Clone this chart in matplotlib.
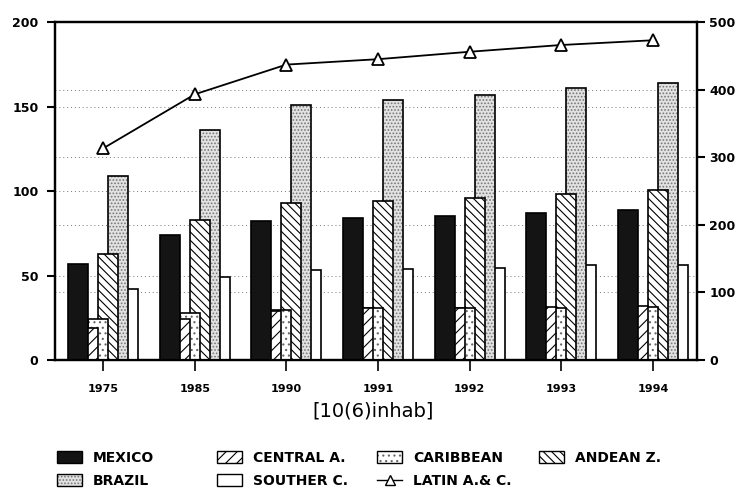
import numpy as np
import matplotlib.pyplot as plt
from matplotlib.patches import Patch
from matplotlib.lines import Line2D

plt.switch_backend('Agg')
plt.rcParams['font.family'] = ['DejaVu Sans']
plt.rcParams['hatch.linewidth'] = 0.8

years = ['1975', '1985', '1990', '1991', '1992', '1993', '1994']

mexico = [57, 74, 82, 84, 85, 87, 89]
central = [19, 24, 29, 31, 30.5, 31.5, 32]
caribbean = [24, 28, 29.5, 30.5, 30.5, 31, 31.5]
andean = [63, 83, 93, 94, 96, 98, 100.5]
brazil = [109, 136, 151, 154, 157, 161, 164]
souther = [42, 49, 53, 54, 54.5, 56, 56.5]
latin = [313, 393, 437, 445, 456, 466, 473]

left_ticks = [0, 50, 100, 150, 200]
right_ticks = [0, 100, 200, 300, 400, 500]

# name, values, fill, hatch, hatch colour
series = [
    ('MEXICO', mexico, '#141414', '', '#141414'),
    ('CENTRAL A.', central, 'white', '///', 'black'),
    ('CARIBBEAN', caribbean, 'white', '...', '#666666'),
    ('ANDEAN Z.', andean, 'white', '\\\\\\\\', 'black'),
    ('BRAZIL', brazil, '#e2e2e2', '.....', '#777777'),
    ('SOUTHER C.', souther, 'white', '', 'white'),
]

fig = plt.figure(figsize=(7.41, 4.88), dpi=100)
ax = fig.add_axes([0.0742, 0.2623, 0.8664, 0.6926])

x = np.arange(len(years))
step = 0.109
width = 0.218

# overlapping bars, the first series sits in front
handles = {}
for i, (name, vals, fc, hatch, hc) in enumerate(series):
    pos = x + (i - 2.5) * step
    z = 10 - i
    ax.bar(pos, vals, width=width, color=fc, edgecolor=hc, hatch=hatch,
           linewidth=0, zorder=z)
    ax.bar(pos, vals, width=width, fill=False, edgecolor='black',
           linewidth=1.2, zorder=z + 0.01)
    handles[name] = (Patch(facecolor=fc, edgecolor=hc, hatch=hatch, linewidth=0),
                     Patch(fill=False, edgecolor='black', linewidth=1.0))

# dotted guide lines for both scales
ratio = left_ticks[-1] / right_ticks[-1]
for v in left_ticks[1:-1]:
    ax.axhline(v, color='#777777', lw=0.7, ls=(0, (1, 3)), zorder=1)
for v in right_ticks[1:-1]:
    ax.axhline(v * ratio, color='#777777', lw=0.7, ls=(0, (1, 3)), zorder=1)

ax.set_xlim(-0.525, 6.48)
ax.set_ylim(0, 200)
ax.set_xticks(x)
ax.set_xticklabels(years, fontsize=8, fontweight='bold')
ax.set_yticks(left_ticks)
ax.set_yticklabels([str(t) for t in left_ticks], fontsize=9, fontweight='bold')
ax.tick_params(axis='x', length=8, width=1.2, pad=9)
ax.tick_params(axis='y', length=6, width=1.5, pad=6)
for s in ax.spines.values():
    s.set_linewidth(1.6)

ax2 = ax.twinx()
ax2.plot(x, latin, color='black', lw=1.3, marker='^', ms=9,
         mfc='white', mec='black', mew=1.3, zorder=20)
ax2.set_ylim(0, 500)
ax2.set_yticks(right_ticks)
ax2.set_yticklabels([str(t) for t in right_ticks], fontsize=9, fontweight='bold')
ax2.tick_params(axis='y', length=6, width=1.5, pad=3)
for s in ax2.spines.values():
    s.set_linewidth(1.6)

fig.text(373 / 741, 1 - 411 / 488, '[10(6)inhab]', fontsize=14,
         ha='center', va='center')

latin_handle = Line2D([], [], color='black', lw=1.0, marker='^', ms=7,
                      mfc='white', mec='black')
columns = [
    (57, ['MEXICO', 'BRAZIL']),
    (217, ['CENTRAL A.', 'SOUTHER C.']),
    (377, ['CARIBBEAN', 'LATIN A.& C.']),
    (539, ['ANDEAN Z.']),
]
for xpos, names in columns:
    hs = [latin_handle if n.startswith('LATIN') else handles[n] for n in names]
    fig.legend(hs, names, loc='upper left',
               bbox_to_anchor=(xpos / 741, 1 - 451 / 488),
               frameon=False, borderpad=0, borderaxespad=0,
               handlelength=1.8, handleheight=0.9, handletextpad=0.8,
               labelspacing=0.65, prop={'size': 10, 'weight': 'bold'})

fig.savefig('out.png', dpi=100)
